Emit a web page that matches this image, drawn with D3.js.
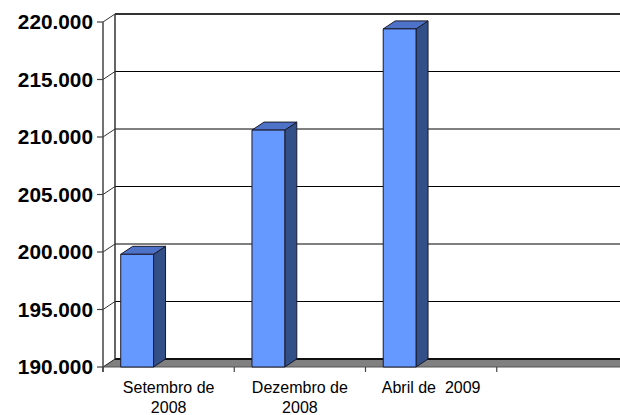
<!DOCTYPE html>
<html><head><meta charset="utf-8">
<script src="https://cdn.jsdelivr.net/npm/d3@7/dist/d3.min.js"></script>
<style>body{margin:0;background:#fff}svg{display:block}</style>
</head><body>
<svg id="c" width="620" height="415"></svg>
<script>
const categories = [["Setembro de","2008"],["Dezembro de","2008"],["Abril de  2009"],[""]];
const values = [199800, 210600, 219400, null];
const yTicks = [190000,195000,200000,205000,210000,215000,220000];
const yTickLabels = ["190.000","195.000","200.000","205.000","210.000","215.000","220.000"];

const svg = d3.select("#c");
const DX = 12, DY = -8;
const x0 = 103, xEnd = 628;
const y = d3.scaleLinear().domain([190000,220000]).range([367,22]);
const x = d3.scaleBand().domain(d3.range(categories.length)).range([x0, xEnd]).padding(0);
const bw = x.bandwidth();
const yb = y(190000);

// floor
svg.append("polygon")
  .attr("points", [[x0,yb],[xEnd,yb],[xEnd+DX,yb+DY],[x0+DX,yb+DY]].map(p=>p.join(",")).join(" "))
  .attr("fill","#808080");

// back wall gridlines
yTicks.forEach((t,i)=>{
  const yy = y(t)+DY;
  if (i===0) return;
  svg.append("line").attr("x1",x0+DX).attr("x2",620).attr("y1",yy).attr("y2",yy)
    .attr("stroke", i===yTicks.length-1 ? "#333" : "#000")
    .attr("stroke-width", i===yTicks.length-1 ? 2 : 1);
});
// floor back edge
svg.append("line").attr("x1",x0+DX).attr("x2",620).attr("y1",yb+DY).attr("y2",yb+DY)
  .attr("stroke","#111").attr("stroke-width",2);
// floor front edge
svg.append("line").attr("x1",x0).attr("x2",620).attr("y1",yb).attr("y2",yb)
  .attr("stroke","#555").attr("stroke-width",1);

// side wall diagonals
yTicks.forEach((t,i)=>{
  svg.append("line").attr("x1",x0).attr("y1",y(t)).attr("x2",x0+DX).attr("y2",y(t)+DY)
    .attr("stroke", i===0 ? "#222" : "#333").attr("stroke-width",1);
});
// back wall left edge
svg.append("line").attr("x1",x0+DX).attr("x2",x0+DX).attr("y1",y(220000)+DY).attr("y2",yb+DY)
  .attr("stroke","#333").attr("stroke-width",1.5);
// front y axis
svg.append("line").attr("x1",x0).attr("x2",x0).attr("y1",y(220000)).attr("y2",yb+5)
  .attr("stroke","#444").attr("stroke-width",1.5);

// y ticks and labels
yTicks.forEach((t,i)=>{
  svg.append("line").attr("x1",x0-6).attr("x2",x0).attr("y1",y(t)).attr("y2",y(t))
    .attr("stroke","#444").attr("stroke-width",1.2);
  svg.append("text").attr("x",93).attr("y",y(t)).attr("dy","0.36em")
    .attr("text-anchor","end").attr("font-family","Liberation Sans, Arial, sans-serif")
    .attr("font-weight","bold").attr("font-size",20.8).attr("fill","#000")
    .text(yTickLabels[i]);
});

// x ticks
d3.range(categories.length).forEach(i=>{
  const xx = x(i);
  svg.append("line").attr("x1",xx).attr("x2",xx).attr("y1",yb).attr("y2",yb+5)
    .attr("stroke","#444").attr("stroke-width",1.2);
});

// bars
values.forEach((v,i)=>{
  if (v==null) return;
  const bx0 = x(i)+bw*0.135, bx1 = bx0 + bw*0.25, yt = y(v);
  const g = svg.append("g").attr("stroke","#1a1a2a").attr("stroke-width",1).attr("stroke-linejoin","round");
  g.append("polygon").attr("points",[[bx1,yt],[bx1+DX,yt+DY],[bx1+DX,yb+DY],[bx1,yb]].map(p=>p.join(",")).join(" "))
    .attr("fill","#334f88");
  g.append("polygon").attr("points",[[bx0,yt],[bx1,yt],[bx1+DX,yt+DY],[bx0+DX,yt+DY]].map(p=>p.join(",")).join(" "))
    .attr("fill","#4d72c8");
  g.append("rect").attr("x",bx0).attr("y",yt).attr("width",bx1-bx0).attr("height",yb-yt)
    .attr("fill","#6699ff");
});

// category labels
categories.forEach((lines,i)=>{
  const t = svg.append("text").attr("text-anchor","middle")
    .attr("font-family","Liberation Sans, Arial, sans-serif").attr("font-size",16).attr("fill","#000")
    .style("white-space","pre");
  lines.forEach((l,j)=>{
    t.append("tspan").attr("x",x(i)+bw/2).attr("y",393+j*20).text(l);
  });
});
</script>
</body></html>
